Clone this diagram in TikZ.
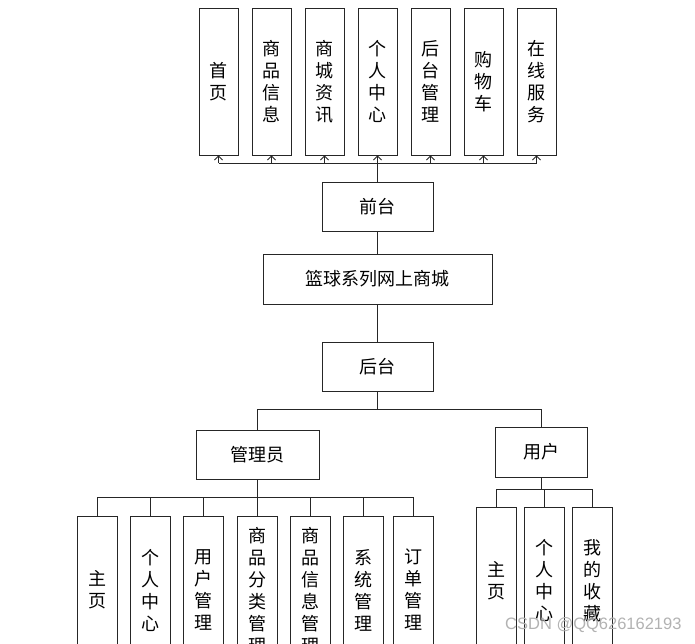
\documentclass[tikz,border=0pt]{standalone}
\usepackage{fontspec}
\setmainfont{Liberation Sans}
\newfontfamily\cjk{Noto Sans CJK SC}
\usetikzlibrary{arrows.meta}
\begin{document}
\begin{tikzpicture}[x=1pt,y=-1pt,
 box/.style={draw=black!85, line width=0.9pt, inner sep=0pt, font=\cjk\fontsize{18}{22}\selectfont, align=center},
 vbox/.style={box, minimum width=39pt, minimum height=147pt},
 hbox/.style={box, minimum height=49pt},
 link/.style={draw=black!85, line width=0.9pt},
 arr/.style={link, -{Straight Barb[length=4pt,width=8pt]}}]
\useasboundingbox (0,0) rectangle (695,643);
\clip (0,0) rectangle (695,643);
% top row
\node[vbox] (t1) at (218.5,81.5) {首\\页};
\node[vbox] (t2) at (271.5,81.5) {商\\品\\信\\息};
\node[vbox] (t3) at (324.5,81.5) {商\\城\\资\\讯};
\node[vbox] (t4) at (377.5,81.5) {个\\人\\中\\心};
\node[vbox] (t5) at (430.5,81.5) {后\\台\\管\\理};
\node[vbox] (t6) at (483.5,81.5) {购\\物\\车};
\node[vbox] (t7) at (536.5,81.5) {在\\线\\服\\务};
% middle
\node[hbox, minimum width=111pt] (qt) at (377.5,206.5) {前台};
\node[hbox, minimum width=229pt, minimum height=50pt] (main) at (377.5,279) {篮球系列网上商城};
\node[hbox, minimum width=111pt] (ht) at (377.5,366.5) {后台};
\node[hbox, minimum width=123pt] (gly) at (257.5,454.5) {管理员};
\node[hbox, minimum width=92pt, minimum height=50pt] (yh) at (541,452) {用户};
% admin children
\node[vbox, minimum width=40pt, minimum height=148pt] (a1) at (97,590) {主\\页};
\node[vbox, minimum width=40pt, minimum height=148pt] (a2) at (150.5,590) {个\\人\\中\\心};
\node[vbox, minimum width=40pt, minimum height=148pt] (a3) at (203.5,590) {用\\户\\管\\理};
\node[vbox, minimum width=40pt, minimum height=148pt] (a4) at (257,590) {商\\品\\分\\类\\管\\理};
\node[vbox, minimum width=40pt, minimum height=148pt] (a5) at (310,590) {商\\品\\信\\息\\管\\理};
\node[vbox, minimum width=40pt, minimum height=148pt] (a6) at (363.5,590) {系\\统\\管\\理};
\node[vbox, minimum width=40pt, minimum height=148pt] (a7) at (413,590) {订\\单\\管\\理};
% user children
\node[vbox, minimum width=40pt] (u1) at (496.5,580.5) {主\\页};
\node[vbox, minimum width=40pt] (u2) at (544,580.5) {个\\人\\中\\心};
\node[vbox, minimum width=40pt] (u3) at (592,580.5) {我\\的\\收\\藏};
% connectors: front bus
\coordinate (fb) at (377.5,163);
\draw[link] (qt.north) -- (fb);
\draw[link] (t1.south |- fb) -- (t7.south |- fb);
\foreach \i in {1,...,7} { \draw[arr] (t\i.south |- fb) -- (t\i.south); }
\draw[link] (qt.south) -- (main.north);
\draw[link] (main.south) -- (ht.north);
% back bus
\coordinate (hb) at (377.5,409);
\draw[link] (ht.south) -- (hb);
\draw[link] (gly.north) -- (gly.north |- hb) -- (yh.north |- hb) -- (yh.north);
% admin bus
\coordinate (ab) at (257.5,497);
\draw[link] (gly.south) -- (ab);
\draw[link] (a1.north |- ab) -- (a7.north |- ab);
\foreach \i in {1,...,7} { \draw[link] (a\i.north |- ab) -- (a\i.north); }
% user bus
\coordinate (ub) at (541,489);
\draw[link] (yh.south) -- (ub);
\draw[link] (u1.north |- ub) -- (u3.north |- ub);
\foreach \i in {1,2,3} { \draw[link] (u\i.north |- ub) -- (u\i.north); }
% watermark
\node[font=\fontsize{16.5}{18}\selectfont, text=gray!60, anchor=west, inner sep=0pt] (wm) at (505,625) {CSDN @QQ626162193};
\end{tikzpicture}
\end{document}
